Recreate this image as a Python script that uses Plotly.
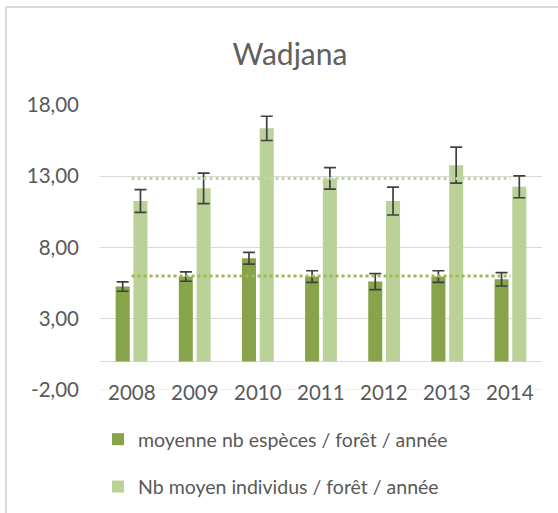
import plotly.graph_objects as go

# Données par année
years = ["2008", "2009", "2010", "2011", "2012", "2013", "2014"]
especes = [5.26, 5.96, 7.25, 5.96, 5.61, 5.96, 5.77]
especes_err = [0.33, 0.33, 0.41, 0.41, 0.56, 0.41, 0.47]
individus = [11.26, 12.15, 16.36, 12.85, 11.26, 13.78, 12.26]
individus_err = [0.80, 1.07, 0.85, 0.76, 0.98, 1.26, 0.77]
moyenne_especes = 6.0
moyenne_individus = 12.85

# Graduations de l'axe vertical
y_ticks = [-2, 3, 8, 13, 18]
y_tick_labels = ["-2,00", "3,00", "8,00", "13,00", "18,00"]

W, H = 558, 513
ML, MR, MT, MB = 100, 16, 105, 123
PW, PH = W - ML - MR, H - MT - MB

FONT = "Lato, 'Open Sans', sans-serif"
GREY = "#595959"
GRID = "#D9D9D9"
DARK = "#87A44B"
LIGHT = "#BAD198"


def px_x(px):
    return (px - ML) / PW


def px_y(py):
    return (H - MB - py) / PH


fig = go.Figure()

fig.add_trace(go.Bar(
    x=years, y=especes, name="moyenne nb espèces / forêt / année",
    marker=dict(color=DARK, line=dict(width=0)),
    error_y=dict(type="data", array=especes_err, color="#404040",
                 thickness=1.7, width=6),
    legendgroup="a",
))
fig.add_trace(go.Bar(
    x=years, y=individus, name="Nb moyen individus / forêt / année",
    marker=dict(color=LIGHT, line=dict(width=0)),
    error_y=dict(type="data", array=individus_err, color="#404040",
                 thickness=1.7, width=6),
    legendgroup="b",
))

# Lignes de moyenne (pointillés)
fig.add_trace(go.Scatter(
    x=years, y=[moyenne_especes] * len(years), mode="lines",
    line=dict(color="#9BBB59", width=3, dash="dot"),
    showlegend=False, hoverinfo="skip",
))
fig.add_trace(go.Scatter(
    x=years, y=[moyenne_individus] * len(years), mode="lines",
    line=dict(color="#C3D69B", width=3, dash="dot"),
    showlegend=False, hoverinfo="skip",
))

# Ligne de grille du bas (-2), sous les étiquettes des années
fig.add_shape(type="line", xref="paper", yref="y", x0=0, x1=1,
              y0=y_ticks[0], y1=y_ticks[0], layer="below",
              line=dict(color=GRID, width=1))

# Étiquettes des années posées sur la ligne -2 (position = rang de la catégorie)
for i, yr in enumerate(years):
    fig.add_annotation(x=i, y=y_ticks[0], xref="x", yref="y", text=yr,
                       showarrow=False, bgcolor="white", borderpad=0,
                       font=dict(family=FONT, size=20.5, color=GREY),
                       yanchor="middle", xanchor="center", yshift=-2)

# Cadre du graphique
fig.add_shape(type="line", xref="paper", yref="paper",
              x0=px_x(6), x1=px_x(6), y0=px_y(7), y1=px_y(520),
              line=dict(color=GRID, width=2))
fig.add_shape(type="line", xref="paper", yref="paper",
              x0=px_x(6), x1=px_x(570), y0=px_y(7), y1=px_y(7),
              line=dict(color=GRID, width=2))

fig.update_layout(
    width=W, height=H,
    margin=dict(l=ML, r=MR, t=MT, b=MB, pad=0, autoexpand=False),
    paper_bgcolor="white", plot_bgcolor="white",
    barmode="group", bargap=0.437, bargroupgap=0.21,
    title=dict(text="Wadjana", x=290 / W, xanchor="center",
               y=1 - 54 / H, yanchor="middle",
               font=dict(family=FONT, size=30, color="#606060")),
    font=dict(family=FONT, size=19, color=GREY),
    xaxis=dict(type="category", range=[-0.5, len(years) - 0.5],
               showticklabels=False, showgrid=False,
               zeroline=False, showline=False, ticks=""),
    yaxis=dict(range=[-2, 18], tickmode="array", tickvals=y_ticks,
               ticktext=y_tick_labels, automargin=False,
               showgrid=True, gridcolor=GRID, gridwidth=1,
               zeroline=True, zerolinecolor=GRID, zerolinewidth=1,
               showline=False, ticks="", ticklabelstandoff=20,
               tickfont=dict(family=FONT, size=20.5, color=GREY)),
    showlegend=True,
    legend=dict(x=px_x(98), y=px_y(420), xanchor="left", yanchor="top",
                orientation="v", traceorder="grouped", tracegroupgap=19,
                font=dict(family=FONT, size=19.5, color=GREY),
                bgcolor="rgba(0,0,0,0)", itemwidth=30),
)

fig.write_html("out.html")
